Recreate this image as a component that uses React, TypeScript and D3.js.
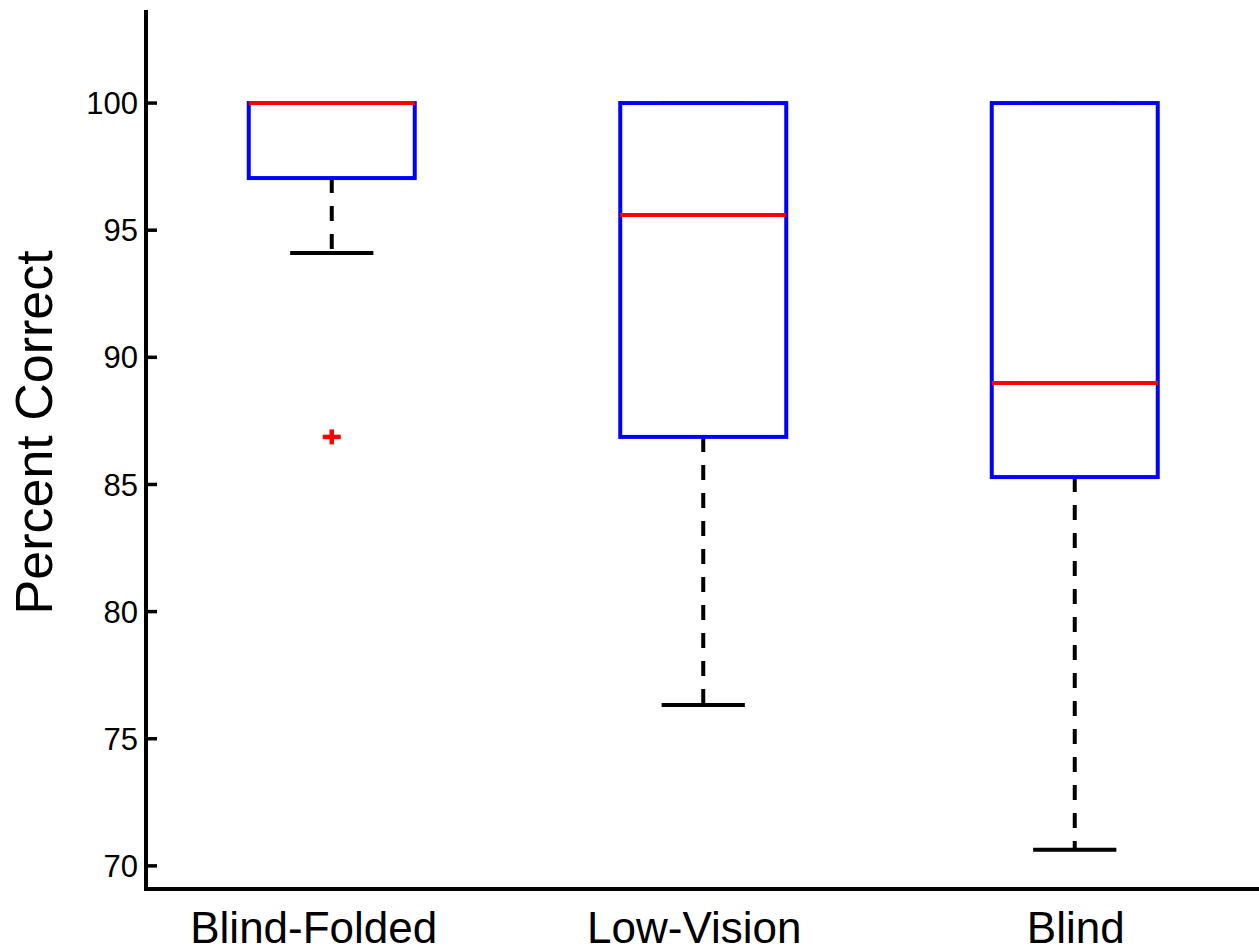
import React from "react";
import * as d3 from "d3";

// Group names and five-number summaries (percent correct)
const categories = ["Blind-Folded", "Low-Vision", "Blind"];
const whiskerLow = [94.1, 76.33, 70.63];
const q1 = [97.05, 86.87, 85.29];
const median = [100, 95.6, 88.99];
const q3 = [100, 100, 100];
const whiskerHigh = [100, 100, 100];
const outliers: number[][] = [[86.87], [], []];
const yTicks = [70, 75, 80, 85, 90, 95, 100];

const W = 1259;
const H = 951;
const FONT = "'Liberation Sans', Arial, Helvetica, sans-serif";
// small horizontal nudges for the category labels
const labelNudge = [-18, -9, 1];

export default function App() {
  const x = d3.scaleLinear().domain([0.5, 3.5]).range([146, 1260.5]);
  const y = d3.scaleLinear().domain([69.09, 103.66]).range([889, 10]);
  const boxHalf = 0.2234;
  const capHalf = 0.112;
  const axisX = x(0.5);
  const axisY = y(69.09);

  return (
    <svg
      width={W}
      height={H}
      style={{ position: "absolute", left: 0, top: 0, background: "#fff" }}
      fontFamily={FONT}
    >
      {/* boxes */}
      {categories.map((c, i) => {
        const cx = x(i + 1);
        const bl = x(i + 1 - boxHalf);
        const br = x(i + 1 + boxHalf);
        const cl = x(i + 1 - capHalf);
        const cr = x(i + 1 + capHalf);
        return (
          <g key={c}>
            {/* whiskers */}
            <line x1={cx} x2={cx} y1={y(q1[i])} y2={y(whiskerLow[i])} stroke="#000" strokeWidth={4} strokeDasharray="15,13" />
            <line x1={cx} x2={cx} y1={y(q3[i])} y2={y(whiskerHigh[i])} stroke="#000" strokeWidth={4} strokeDasharray="15,13" />
            {/* caps */}
            <line x1={cl} x2={cr} y1={y(whiskerLow[i])} y2={y(whiskerLow[i])} stroke="#000" strokeWidth={4} />
            <line x1={cl} x2={cr} y1={y(whiskerHigh[i])} y2={y(whiskerHigh[i])} stroke="#000" strokeWidth={4} />
            {/* box */}
            <rect
              x={bl}
              y={y(q3[i])}
              width={br - bl}
              height={y(q1[i]) - y(q3[i])}
              fill="none"
              stroke="#0000ff"
              strokeWidth={4}
            />
            {/* median */}
            <line x1={bl} x2={br} y1={y(median[i])} y2={y(median[i])} stroke="#ff0000" strokeWidth={4} />
            {/* outliers */}
            {outliers[i].map((v, j) => (
              <g key={j} stroke="#ff0000" strokeWidth={4.5}>
                <line x1={cx - 9} x2={cx + 9} y1={y(v)} y2={y(v)} />
                <line x1={cx} x2={cx} y1={y(v) - 7.5} y2={y(v) + 7.5} />
              </g>
            ))}
          </g>
        );
      })}

      {/* y axis */}
      <line x1={axisX} x2={axisX} y1={y(103.66)} y2={axisY + 2} stroke="#000" strokeWidth={4} />
      {yTicks.map((t) => (
        <g key={t}>
          <line x1={axisX} x2={axisX + 11} y1={y(t)} y2={y(t)} stroke="#000" strokeWidth={3.5} />
          <text x={axisX - 8} y={y(t)} dy="0.36em" textAnchor="end" fontSize={31} fill="#000">
            {t}
          </text>
        </g>
      ))}

      {/* x axis */}
      <line x1={axisX - 2} x2={W} y1={axisY} y2={axisY} stroke="#000" strokeWidth={4} />
      {categories.map((c, i) => (
        <text key={c} x={x(i + 1) + labelNudge[i]} y={943} textAnchor="middle" fontSize={44} fill="#000">
          {c}
        </text>
      ))}

      {/* y label */}
      <text
        transform={`translate(52, ${y(87.05)}) rotate(-90)`}
        textAnchor="middle"
        fontSize={52}
        fill="#000"
      >
        Percent Correct
      </text>
    </svg>
  );
}
